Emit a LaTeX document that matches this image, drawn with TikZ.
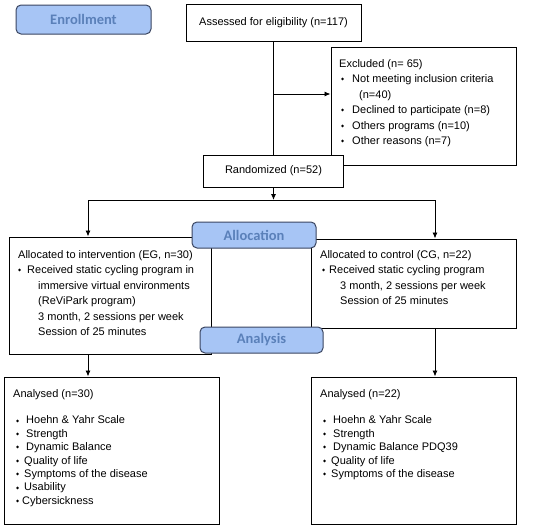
\documentclass[tikz,border=0pt]{standalone}
\usepackage{fontspec}
\setmainfont{Liberation Sans}
\newfontfamily\calib{Carlito}
\newfontfamily\symfont{DejaVu Sans}
\usetikzlibrary{arrows.meta}
\definecolor{phfill}{HTML}{A7C5F5}
\definecolor{phdraw}{HTML}{3A4560}
\definecolor{phtext}{HTML}{5A80B9}
\newcommand{\bl}{\raisebox{1.8pt}{\fontsize{4}{4}\selectfont\symfont ◆}}
\newcommand{\li}[3]{\hspace*{#1}\makebox[#2][l]{\bl}#3}
\begin{document}
\begin{tikzpicture}[x=1pt,y=-1pt,
  box/.style={draw=black, line width=1pt, fill=white, inner sep=0pt, font=\fontsize{11}{13}\selectfont},
  phase/.style={draw=phdraw, line width=1pt, fill=phfill, rounded corners=5pt, inner sep=0pt, text=phtext, font=\calib\bfseries\fontsize{14.5}{16}\selectfont},
  txt/.style={anchor=north west, inner sep=0pt, align=left, font=\fontsize{11}{15.5}\selectfont},
  txtb/.style={txt, font=\fontsize{11}{13.4}\selectfont},
  conn/.style={line width=0.9pt},
  arr/.style={conn, -{Latex[length=6pt,width=5pt]}}]
\useasboundingbox (0,0) rectangle (550,530);
% boxes
\node[phase, minimum width=135pt, minimum height=29pt] (enroll) at (83.5,19.5) {Enrollment};
\node[box, minimum width=175pt, minimum height=37pt] (assess) at (273.5,22.5) {Assessed for eligibility (n=117)};
\node[box, minimum width=185pt, minimum height=118pt] (excl) at (423.5,106) {};
\node[box, minimum width=140pt, minimum height=32pt] (rand) at (273.5,171) {Randomized (n=52)};
\node[box, minimum width=202pt, minimum height=117pt] (alloceg) at (110,295.5) {};
\node[box, minimum width=205pt, minimum height=89pt] (allocc) at (413.5,283.5) {};
\node[phase, minimum width=124pt, minimum height=26pt] (allocation) at (254,235) {Allocation};
\node[box, minimum width=215pt, minimum height=147pt] (anaeg) at (111.5,450.5) {};
\node[box, minimum width=205pt, minimum height=147pt] (anacg) at (413.5,450.5) {};
\node[phase, minimum width=123pt, minimum height=26pt] (analysis) at (261.5,340) {Analysis};
% texts
\node[txt] (exctxt) at (339,59) {Excluded (n= 65)\\
\li{2pt}{11pt}{Not meeting inclusion criteria}\\
\hspace*{20pt}(n=40)\\
\li{2pt}{11pt}{Declined to participate (n=8)}\\
\li{2pt}{11pt}{Others programs (n=10)}\\
\li{2pt}{11pt}{Other reasons (n=7)}};
\node[txt] (egtxt) at (18,250) {Allocated to intervention (EG, n=30)\\
\li{0pt}{9pt}{Received static cycling program in}\\
\hspace*{20pt}immersive virtual environments\\
\hspace*{20pt}(ReViPark program)\\
\hspace*{20pt}3 month, 2 sessions per week\\
\hspace*{20pt}Session of 25 minutes};
\node[txt] (cgtxt) at (320,250) {Allocated to control (CG, n=22)\\
\li{2pt}{7pt}{Received static cycling program}\\
\hspace*{20pt}3 month, 2 sessions per week\\
\hspace*{20pt}Session of 25 minutes};
\node[txtb] (anaegtxt) at (13,389) {Analysed (n=30)\\[13.4pt]
\li{3pt}{10pt}{Hoehn \& Yahr Scale}\\
\li{3pt}{10pt}{Strength}\\
\li{3pt}{10pt}{Dynamic Balance}\\
\li{3pt}{8pt}{Quality of life}\\
\li{3pt}{8pt}{Symptoms of the disease}\\
\li{3pt}{8pt}{Usability}\\
\li{3pt}{6pt}{Cybersickness}};
\node[txtb] (anacgtxt) at (320,389) {Analysed (n=22)\\[13.4pt]
\li{3pt}{10pt}{Hoehn \& Yahr Scale}\\
\li{3pt}{10pt}{Strength}\\
\li{3pt}{10pt}{Dynamic Balance PDQ39}\\
\li{3pt}{8pt}{Quality of life}\\
\li{3pt}{8pt}{Symptoms of the disease}};
% connectors
\draw[conn] (assess.south) -- (rand.north);
\coordinate (exc) at (273.5,94);
\draw[arr] (exc) -- (excl.west |- exc);
\coordinate (split) at (273.5,200);
\draw[arr] (rand.south) -- (split);
\coordinate (sl) at (88,200);
\coordinate (sr) at (435,200);
\draw[conn] (sl) -- (sr);
\draw[arr] (sl) -- (alloceg.north -| sl);
\draw[arr] (sr) -- (allocc.north -| sr);
\draw[arr] (alloceg.south -| sl) -- (anaeg.north -| sl);
\draw[arr] (allocc.south -| sr) -- (anacg.north -| sr);
\end{tikzpicture}
\end{document}
